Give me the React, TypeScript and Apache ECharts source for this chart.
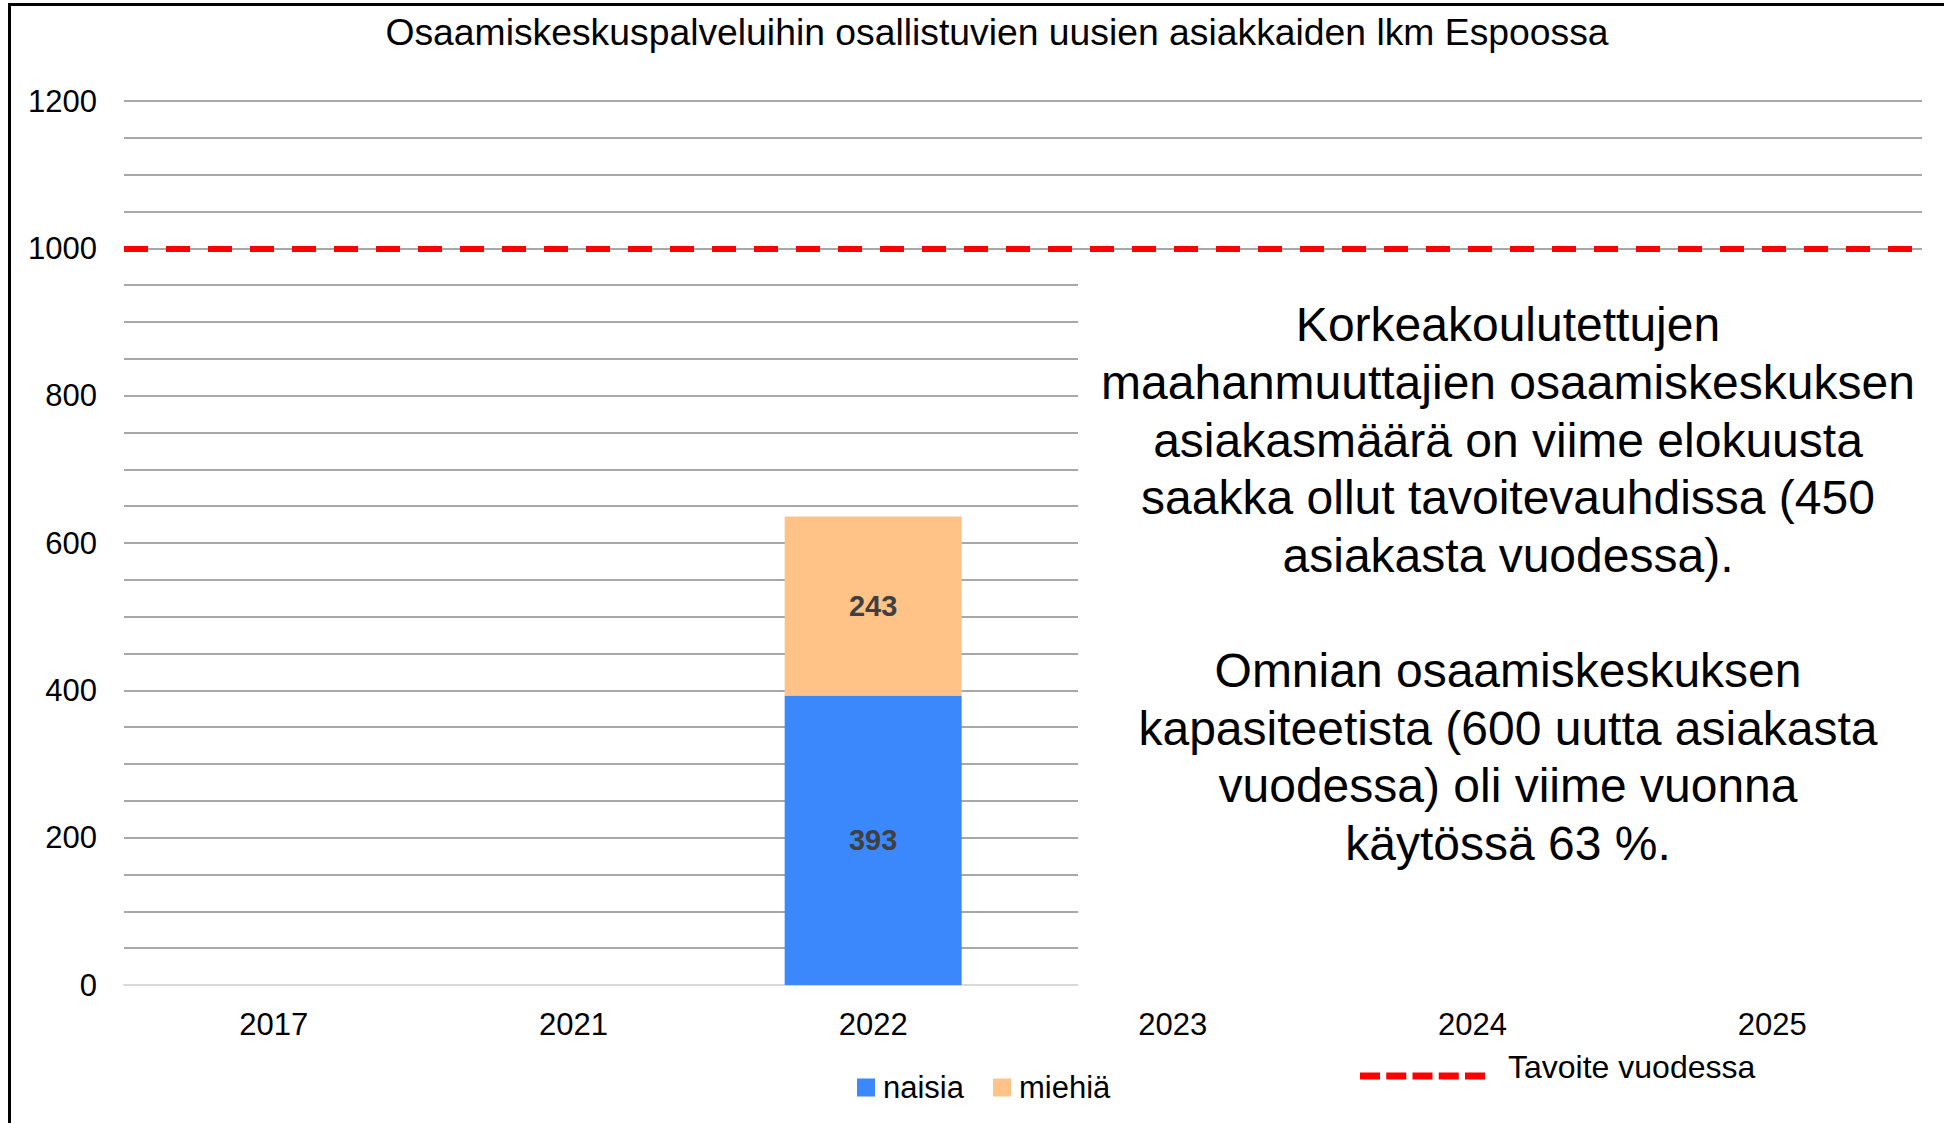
import React, { useEffect, useRef } from "react";
import * as echarts from "echarts";

const categories = ["2017", "2021", "2022", "2023", "2024", "2025"];
const naisia = [null, null, 393, null, null, null];
const miehia = [null, null, 243, null, null, null];
const targetValue = 1000;
const yMax = 1200;
const yLabelStep = 200;
const titleText = "Osaamiskeskuspalveluihin osallistuvien uusien asiakkaiden lkm Espoossa";
const noteLines = [
  "Korkeakoulutettujen",
  "maahanmuuttajien osaamiskeskuksen",
  "asiakasmäärä on viime elokuusta",
  "saakka ollut tavoitevauhdissa (450",
  "asiakasta vuodessa).",
  "",
  "Omnian osaamiskeskuksen",
  "kapasiteetista (600 uutta asiakasta",
  "vuodessa) oli viime vuonna",
  "käytössä 63 %.",
];

const FONT = '"Liberation Sans", Arial, sans-serif';

export default function App() {
  const ref = useRef<HTMLDivElement>(null);
  useEffect(() => {
    if (!ref.current) return;
    const chart = echarts.init(ref.current, undefined, { renderer: "svg" });
    const dashIcon =
      "path://M0,-18L0.01,-18 M0,0h20v7h-20z M26.25,0h20v7h-20z M52.5,0h20v7h-20z M78.75,0h20v7h-20z M105,0h20v7h-20z";
    chart.setOption({
      animation: false,
      backgroundColor: "#ffffff",
      textStyle: { fontFamily: FONT },
      title: {
        text: titleText,
        left: 992,
        top: 8,
        textAlign: "center",
        textStyle: { fontFamily: FONT, fontSize: 37.3, fontWeight: "normal", color: "#000" },
      },
      grid: { left: 124, right: 22, top: 101, bottom: 138, containLabel: false },
      legend: [
        {
          data: ["naisia", "miehiä"],
          left: 852,
          top: 1067,
          icon: "rect",
          itemWidth: 18,
          itemHeight: 18,
          itemGap: 29,
          textStyle: { fontFamily: FONT, fontSize: 31, color: "#000", padding: [0, 0, 0, 3] },
          selectedMode: false,
        },
        {
          data: [{ name: "Tavoite vuodessa", icon: dashIcon, itemStyle: { borderWidth: 0 } }],
          left: 1355,
          top: 1046,
          itemWidth: 125,
          itemHeight: 25,
          textStyle: {
            fontFamily: FONT,
            fontSize: 32,
            color: "#000",
            padding: [0, 0, 0, 18],
          },
          selectedMode: false,
        },
      ],
      xAxis: {
        type: "category",
        data: categories,
        axisTick: { show: false },
        axisLine: { show: true, lineStyle: { color: "#d9d9d9", width: 2 } },
        axisLabel: { fontFamily: FONT, fontSize: 31, color: "#000", margin: 24 },
      },
      yAxis: {
        type: "value",
        min: 0,
        max: yMax,
        interval: 50,
        axisLine: { show: false },
        axisTick: { show: false },
        axisLabel: {
          fontFamily: FONT,
          fontSize: 31,
          color: "#000",
          margin: 27,
          formatter: (v: number) => (v % yLabelStep === 0 ? String(v) : ""),
        },
        splitLine: { show: true, showMinLine: false, lineStyle: { color: "#a8a8a8", width: 2 } },
      },
      series: [
        {
          name: "naisia",
          type: "bar",
          stack: "total",
          data: naisia,
          barWidth: 177,
          itemStyle: { color: "#3b88fd" },
          label: {
            show: true,
            position: "inside",
            fontFamily: FONT,
            fontSize: 29,
            fontWeight: "bold",
            color: "#404040",
          },
        },
        {
          name: "miehiä",
          type: "bar",
          stack: "total",
          data: miehia,
          barWidth: 177,
          itemStyle: { color: "#ffc388" },
          label: {
            show: true,
            position: "inside",
            fontFamily: FONT,
            fontSize: 29,
            fontWeight: "bold",
            color: "#404040",
          },
        },
        {
          name: "Tavoite vuodessa",
          type: "line",
          data: [],
          symbol: "none",
          itemStyle: { color: "#ff0000" },
          lineStyle: { color: "#ff0000", width: 6 },
          markLine: {
            silent: true,
            symbol: ["none", "none"],
            label: { show: false },
            lineStyle: { color: "#ff0000", width: 6, type: [24, 18] },
            data: [{ yAxis: targetValue }],
          },
          z: 5,
        },
      ],
      graphic: [
        {
          type: "rect",
          z: 10,
          silent: true,
          shape: { x: 1078, y: 266, width: 880, height: 734 },
          style: { fill: "#ffffff" },
        },
        {
          type: "text",
          z: 11,
          silent: true,
          x: 1508,
          y: 296,
          style: {
            text: noteLines.join("\n"),
            fontFamily: FONT,
            fontSize: 48,
            lineHeight: 57.6,
            fill: "#000",
            align: "center",
            verticalAlign: "top",
          },
        },
        {
          type: "rect",
          z: 12,
          silent: true,
          shape: { x: 9.5, y: 4.5, width: 3000, height: 3000 },
          style: { fill: "none", stroke: "#000", lineWidth: 3 },
        },
      ],
    });
    return () => chart.dispose();
  }, []);
  return (
    <div
      ref={ref}
      style={{ position: "fixed", left: 0, top: 0, width: 1944, height: 1123 }}
    />
  );
}
